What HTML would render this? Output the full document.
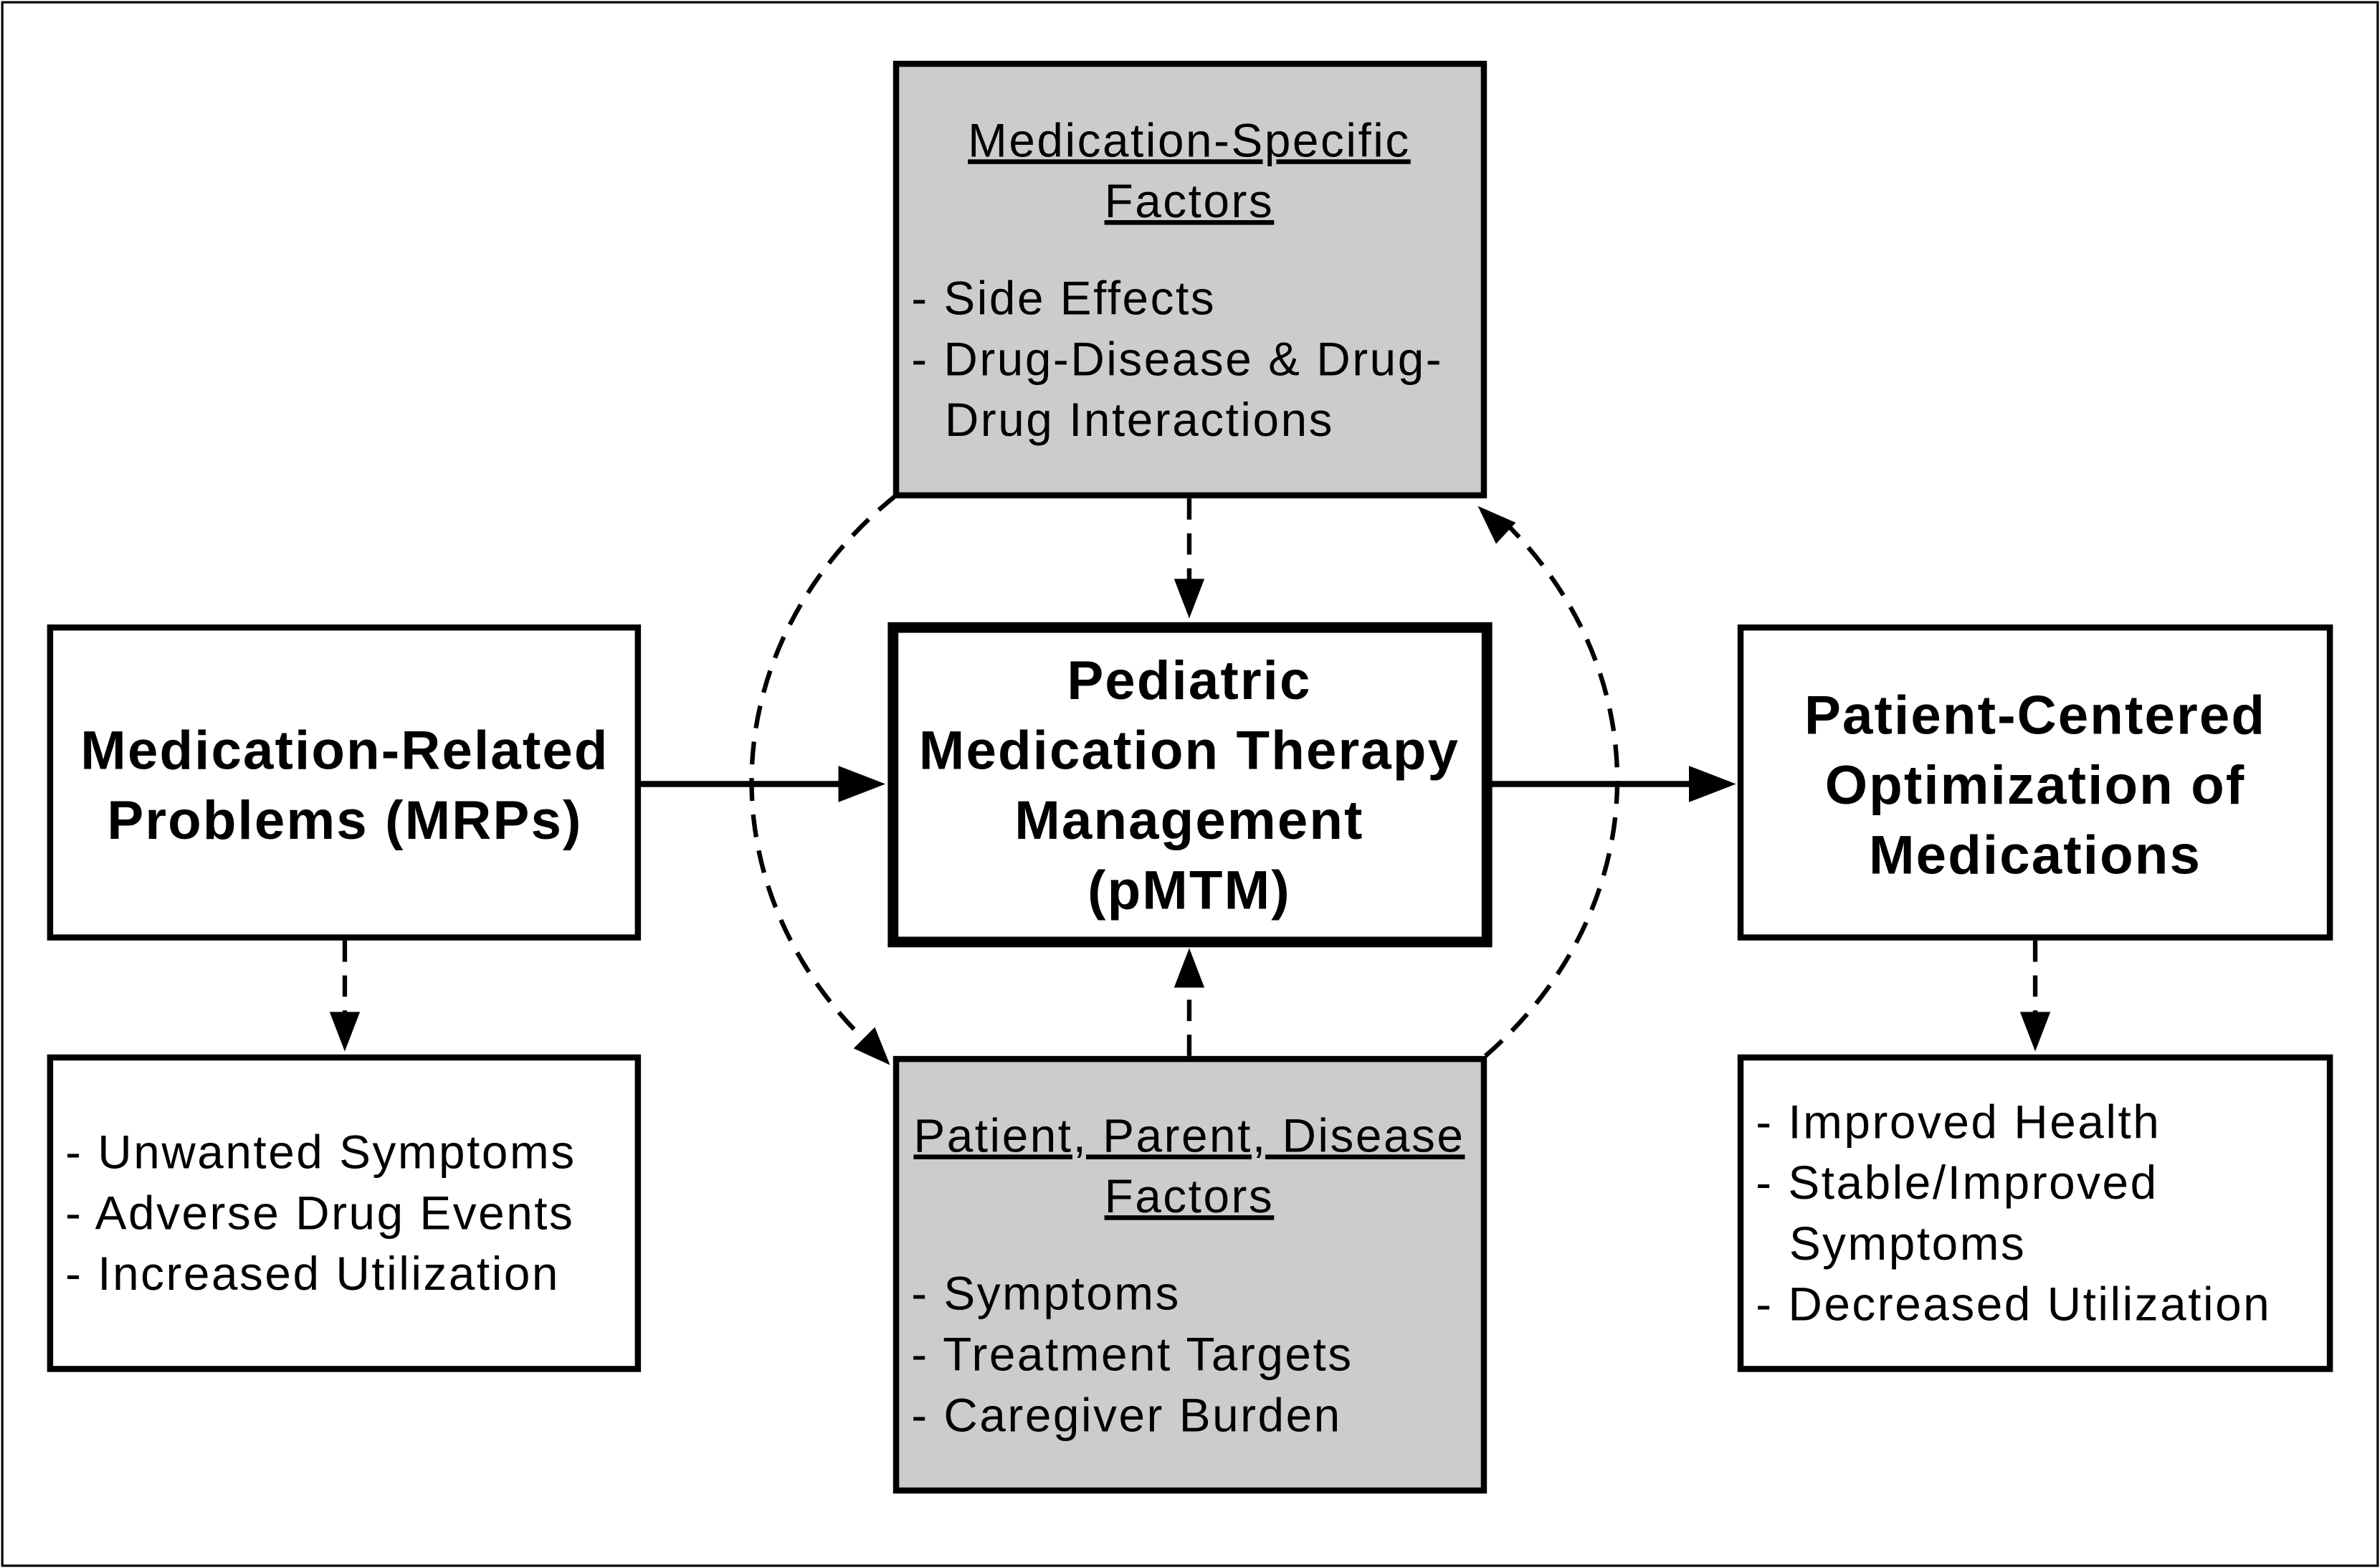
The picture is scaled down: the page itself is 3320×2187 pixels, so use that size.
<!DOCTYPE html>
<html><head><meta charset="utf-8"><style>
html,body{margin:0;padding:0;background:#fff;}
svg{display:block;}
text{font-family:"Liberation Sans",Arial,sans-serif;fill:#000;}
.t{font-weight:bold;font-size:36px;text-anchor:middle;letter-spacing:1px;}
.b{font-size:31px;letter-spacing:1.2px;}
.h{font-size:31px;letter-spacing:1.2px;text-anchor:middle;text-decoration:underline;}
</style></head><body>
<svg width="3320" height="2187" viewBox="0 0 1567 1032" preserveAspectRatio="none" xmlns="http://www.w3.org/2000/svg">
<rect x="0" y="0" width="1567" height="1032" fill="#fff"/>
<rect x="1.5" y="1.5" width="1564" height="1029" fill="none" stroke="#000" stroke-width="1.5"/>
<path d="M590,326 A300,258 0 0 0 575,690" fill="none" stroke="#000" stroke-width="3" stroke-dasharray="15,9"/>
<path d="M978,695 A300,258 0 0 0 990,343" fill="none" stroke="#000" stroke-width="3" stroke-dasharray="15,9"/>
<polygon points="586,701 562,690 576,676" fill="#000"/>
<polygon points="973,333 998,344 985,358" fill="#000"/>
<rect x="590" y="42" width="387" height="284" fill="#ccc" stroke="#000" stroke-width="4"/>
<rect x="590" y="697" width="387" height="284" fill="#ccc" stroke="#000" stroke-width="4"/>
<rect x="588" y="413" width="391" height="207" fill="#fff" stroke="#000" stroke-width="7"/>
<rect x="33" y="413" width="387" height="204" fill="#fff" stroke="#000" stroke-width="4"/>
<rect x="1146" y="413" width="388" height="204" fill="#fff" stroke="#000" stroke-width="4"/>
<rect x="33" y="696" width="387" height="205" fill="#fff" stroke="#000" stroke-width="4"/>
<rect x="1146" y="696" width="388" height="205" fill="#fff" stroke="#000" stroke-width="4"/>
<line x1="420" y1="516" x2="556" y2="516" stroke="#000" stroke-width="4"/>
<polygon points="583,516 552,504 552,528" fill="#000"/>
<line x1="979" y1="516" x2="1116" y2="516" stroke="#000" stroke-width="4"/>
<polygon points="1143,516 1112,504 1112,528" fill="#000"/>
<g stroke="#000" stroke-width="3" stroke-dasharray="14,9" fill="none">
<line x1="783" y1="328" x2="783" y2="384"/>
<line x1="783" y1="695" x2="783" y2="648"/>
<line x1="227" y1="619" x2="227" y2="670"/>
<line x1="1340" y1="619" x2="1340" y2="670"/>
</g>
<polygon points="783,407 773,381 793,381" fill="#000"/>
<polygon points="783,624 773,650 793,650" fill="#000"/>
<polygon points="227,692 217,666 237,666" fill="#000"/>
<polygon points="1340,692 1330,666 1350,666" fill="#000"/>
<text class="h" x="783" y="103">Medication-Specific</text>
<text class="h" x="783" y="143">Factors</text>
<text class="b" x="600" y="207">- Side Effects</text>
<text class="b" x="600" y="247">- Drug-Disease &amp; Drug-</text>
<text class="b" x="622" y="287">Drug Interactions</text>
<text class="t" x="783" y="460">Pediatric</text>
<text class="t" x="783" y="506">Medication Therapy</text>
<text class="t" x="783" y="552">Management</text>
<text class="t" x="783" y="598">(pMTM)</text>
<text class="t" x="227" y="506">Medication-Related</text>
<text class="t" x="227" y="552">Problems (MRPs)</text>
<text class="t" x="1340" y="483">Patient-Centered</text>
<text class="t" x="1340" y="529">Optimization of</text>
<text class="t" x="1340" y="575">Medications</text>
<text class="b" x="43" y="769">- Unwanted Symptoms</text>
<text class="b" x="43" y="809">- Adverse Drug Events</text>
<text class="b" x="43" y="849">- Increased Utilization</text>
<text class="h" x="783" y="758">Patient, Parent, Disease</text>
<text class="h" x="783" y="798">Factors</text>
<text class="b" x="600" y="862">- Symptoms</text>
<text class="b" x="600" y="902">- Treatment Targets</text>
<text class="b" x="600" y="942">- Caregiver Burden</text>
<text class="b" x="1156" y="749">- Improved Health</text>
<text class="b" x="1156" y="789">- Stable/Improved</text>
<text class="b" x="1178" y="829">Symptoms</text>
<text class="b" x="1156" y="869">- Decreased Utilization</text>
</svg>
</body></html>
